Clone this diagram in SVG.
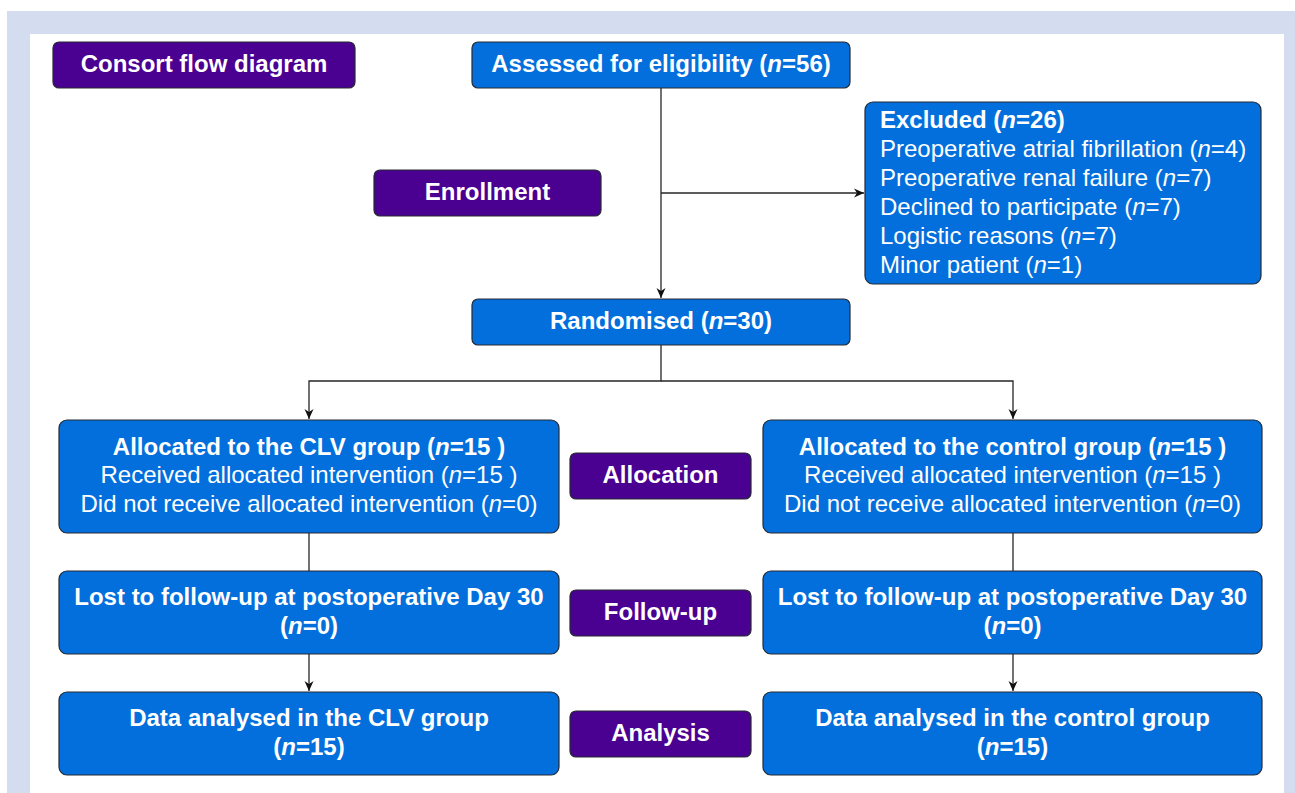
<svg xmlns="http://www.w3.org/2000/svg" width="1295" height="793" viewBox="0 0 1295 793">
<style>
.blue{fill:#026fdc;stroke:#262a33;stroke-width:1.2}
.purple{fill:#4a0091;stroke:#262a33;stroke-width:1.2}
text{font-family:"Liberation Sans",Arial,sans-serif;font-size:24px;fill:#fff}
.b{font-weight:bold}
.c{text-anchor:middle}
.conn{stroke:#262626;stroke-width:1.3;fill:none}
</style>
<defs>
<marker id="ah" viewBox="0 0 10 10" refX="10" refY="5" markerWidth="10" markerHeight="10" markerUnits="userSpaceOnUse" orient="auto">
<path d="M0,0.5 L10,5 L0,9.5 L3,5 Z" fill="#111"/>
</marker>
</defs>
<rect x="7" y="11" width="1288" height="782" fill="#d4ddef"/>
<rect x="30" y="34" width="1254" height="759" fill="#fff"/>
<g id="connectors">
<path class="conn" d="M661,88 V298" marker-end="url(#ah)"/>
<path class="conn" d="M661,193 H864" marker-end="url(#ah)"/>
<path class="conn" d="M661,345 V381 H309 V419" marker-end="url(#ah)"/>
<path class="conn" d="M661,381 H1013 V419" marker-end="url(#ah)"/>
<path class="conn" d="M309,533 V571"/>
<path class="conn" d="M1013,533 V571"/>
<path class="conn" d="M309,654 V691" marker-end="url(#ah)"/>
<path class="conn" d="M1013,654 V691" marker-end="url(#ah)"/>
</g>
<g id="consort">
<rect class="purple" x="53" y="42" width="302" height="46" rx="6"/>
<text class="b c" x="204" y="72">Consort flow diagram</text>
</g>
<g id="assessed">
<rect class="blue" x="472" y="42" width="378" height="46" rx="6"/>
<text class="b c" x="661" y="72">Assessed for eligibility (<tspan font-style="italic">n</tspan>=56)</text>
</g>
<g id="excluded">
<rect class="blue" x="865" y="102" width="396" height="182" rx="8"/>
<text class="b" x="880" y="128">Excluded (<tspan font-style="italic">n</tspan>=26)</text>
<text x="880" y="157">Preoperative atrial fibrillation (<tspan font-style="italic">n</tspan>=4)</text>
<text x="880" y="186">Preoperative renal failure (<tspan font-style="italic">n</tspan>=7)</text>
<text x="880" y="215">Declined to participate (<tspan font-style="italic">n</tspan>=7)</text>
<text x="880" y="244">Logistic reasons (<tspan font-style="italic">n</tspan>=7)</text>
<text x="880" y="273">Minor patient (<tspan font-style="italic">n</tspan>=1)</text>
</g>
<g id="enrollment">
<rect class="purple" x="374" y="170" width="227" height="46" rx="6"/>
<text class="b c" x="487.5" y="200">Enrollment</text>
</g>
<g id="randomised">
<rect class="blue" x="472" y="299" width="378" height="46" rx="6"/>
<text class="b c" x="661" y="329">Randomised (<tspan font-style="italic">n</tspan>=30)</text>
</g>
<g id="alloc-clv">
<rect class="blue" x="59" y="420" width="500" height="113" rx="8"/>
<text class="b c" x="309" y="455">Allocated to the CLV group (<tspan font-style="italic">n</tspan>=15 )</text>
<text class="c" x="309" y="483">Received allocated intervention (<tspan font-style="italic">n</tspan>=15 )</text>
<text class="c" x="309" y="512">Did not receive allocated intervention (<tspan font-style="italic">n</tspan>=0)</text>
</g>
<g id="allocation">
<rect class="purple" x="570" y="453" width="181" height="46" rx="6"/>
<text class="b c" x="660.5" y="483">Allocation</text>
</g>
<g id="alloc-control">
<rect class="blue" x="763" y="420" width="499" height="113" rx="8"/>
<text class="b c" x="1012.5" y="455">Allocated to the control group (<tspan font-style="italic">n</tspan>=15 )</text>
<text class="c" x="1012.5" y="483">Received allocated intervention (<tspan font-style="italic">n</tspan>=15 )</text>
<text class="c" x="1012.5" y="512">Did not receive allocated intervention (<tspan font-style="italic">n</tspan>=0)</text>
</g>
<g id="lost-clv">
<rect class="blue" x="59" y="571" width="500" height="83" rx="8"/>
<text class="b c" x="309" y="605">Lost to follow-up at postoperative Day 30</text>
<text class="b c" x="309" y="634">(<tspan font-style="italic">n</tspan>=0)</text>
</g>
<g id="followup">
<rect class="purple" x="570" y="590" width="181" height="46" rx="6"/>
<text class="b c" x="660.5" y="620">Follow-up</text>
</g>
<g id="lost-control">
<rect class="blue" x="763" y="571" width="499" height="83" rx="8"/>
<text class="b c" x="1012.5" y="605">Lost to follow-up at postoperative Day 30</text>
<text class="b c" x="1012.5" y="634">(<tspan font-style="italic">n</tspan>=0)</text>
</g>
<g id="data-clv">
<rect class="blue" x="59" y="692" width="500" height="83" rx="8"/>
<text class="b c" x="309" y="726">Data analysed in the CLV group</text>
<text class="b c" x="309" y="755">(<tspan font-style="italic">n</tspan>=15)</text>
</g>
<g id="analysis">
<rect class="purple" x="570" y="711" width="181" height="46" rx="6"/>
<text class="b c" x="660.5" y="741">Analysis</text>
</g>
<g id="data-control">
<rect class="blue" x="763" y="692" width="499" height="83" rx="8"/>
<text class="b c" x="1012.5" y="726">Data analysed in the control group</text>
<text class="b c" x="1012.5" y="755">(<tspan font-style="italic">n</tspan>=15)</text>
</g>
</svg>
